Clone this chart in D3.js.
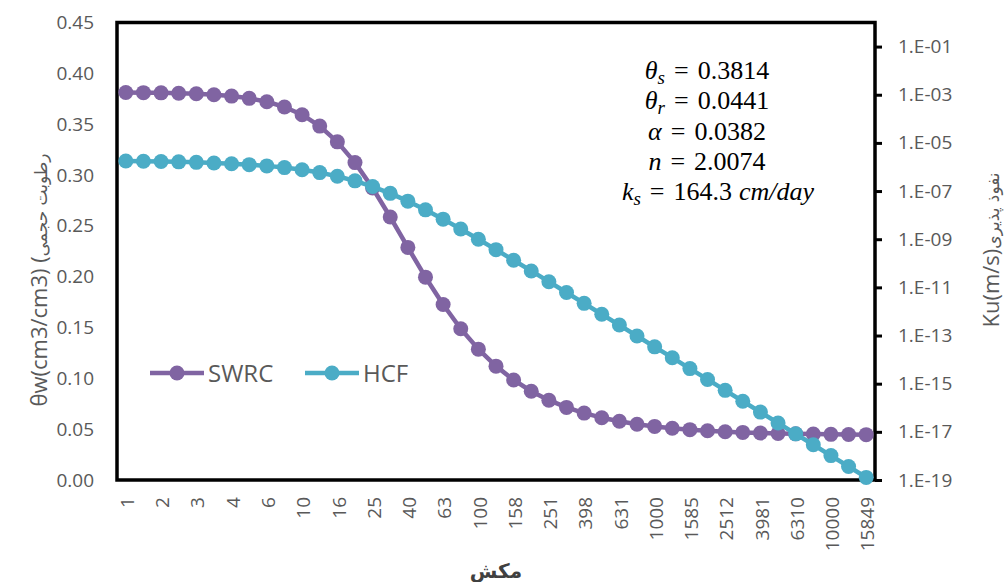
<!DOCTYPE html>
<html>
<head>
<meta charset="utf-8">
<script src="https://cdn.jsdelivr.net/npm/d3@7"></script>
<style>
  html, body { margin: 0; padding: 0; background: #fff; }
  svg { display: block; }
</style>
</head>
<body>
<svg id="chart" width="1006" height="582"></svg>
<script>
// Suction categories (cm), one every 0.1 log unit; every other one is labelled
const suction = ["1","1","2","2","3","3","4","5","6","8","10","13","16","20","25","32","40","50","63","79",
  "100","126","158","200","251","316","398","501","631","794","1000","1259","1585","1995","2512","3162",
  "3981","5012","6310","7943","10000","12589","15849"];

// Soil water retention curve, volumetric water content
const swrc = [0.3812,0.3810,0.3808,0.3804,0.3799,0.3790,0.3776,0.3754,0.3721,0.3669,
  0.3593,0.3481,0.3326,0.3122,0.2872,0.2587,0.2288,0.1995,0.1726,0.1488,
  0.1287,0.1120,0.0984,0.0873,0.0785,0.0714,0.0658,0.0613,0.0578,0.0549,
  0.0527,0.0509,0.0495,0.0484,0.0475,0.0468,0.0462,0.0458,0.0454,0.0452,
  0.0449,0.0448,0.0446];

// Hydraulic conductivity function, Ku (m/s)
const hcf = [1.76e-6,1.73e-6,1.68e-6,1.63e-6,1.56e-6,1.47e-6,1.37e-6,1.25e-6,1.11e-6,9.44e-7,
  7.66e-7,5.85e-7,4.12e-7,2.65e-7,1.54e-7,8.04e-8,3.81e-8,1.66e-8,6.81e-9,2.65e-9,
  1.00e-9,3.68e-10,1.34e-10,4.81e-11,1.72e-11,6.11e-12,2.17e-12,7.67e-13,2.72e-13,9.59e-14,
  3.39e-14,1.20e-14,4.23e-15,1.50e-15,5.28e-16,1.87e-16,6.59e-17,2.33e-17,8.24e-18,2.91e-18,
  1.03e-18,3.63e-19,1.28e-19];

const leftTicks = [0,0.05,0.10,0.15,0.20,0.25,0.30,0.35,0.40,0.45];
const rightTicks = [1e-19,1e-17,1e-15,1e-13,1e-11,1e-9,1e-7,1e-5,1e-3,1e-1];
const rightTickLabels = ["1.E-19","1.E-17","1.E-15","1.E-13","1.E-11","1.E-09","1.E-07","1.E-05","1.E-03","1.E-01"];

const seriesNames = ["SWRC","HCF"];
const colors = {SWRC: "#8064A2", HCF: "#4BACC6"};

// van Genuchten fitted parameters
const params = [
  {sym: "θ", sub: "s", value: "0.3814"},
  {sym: "θ", sub: "r", value: "0.0441"},
  {sym: "α", sub: "", value: "0.0382"},
  {sym: "n", sub: "", value: "2.0074"},
  {sym: "k", sub: "s", value: "164.3", unit: "cm/day"}
];

const svg = d3.select("#chart");
const plotL = 117, plotR = 875, plotT = 22.5, plotB = 480;
const axisColor = "#595959";
const font = "'Open Sans', sans-serif";

const idx = d3.range(suction.length);
const x = d3.scalePoint().domain(idx).range([plotL, plotR]).padding(0.5);
const y = d3.scaleLinear().domain([0, 0.45]).range([plotB, plotT]);
const yK = d3.scaleLog().domain([1e-19, 1]).range([plotB, plotT]);

// Plot frame
svg.append("rect")
  .attr("x", plotL).attr("y", plotT)
  .attr("width", plotR - plotL).attr("height", plotB - plotT)
  .attr("fill", "none").attr("stroke", "#000").attr("stroke-width", 3.5);

// Left axis
const gL = svg.append("g").attr("transform", `translate(${plotL},0)`)
  .call(d3.axisLeft(y).tickValues(leftTicks).tickFormat(d3.format(".2f")).tickSize(0).tickPadding(23));
gL.select(".domain").remove();
gL.selectAll("text").attr("font-family", font).attr("font-size", 19).attr("fill", axisColor);

// Right axis (log)
const gR = svg.append("g").attr("transform", `translate(${plotR},0)`)
  .call(d3.axisRight(yK).tickValues(rightTicks).tickFormat((d, i) => rightTickLabels[i]).tickSize(7).tickPadding(16));
gR.select(".domain").remove();
gR.selectAll("line").attr("stroke", "#000").attr("stroke-width", 3);
gR.selectAll("text").attr("font-family", font).attr("font-size", 19).attr("fill", axisColor);

// Bottom axis, rotated labels on every other category
const gB = svg.append("g").attr("transform", `translate(0,${plotB})`)
  .call(d3.axisBottom(x).tickValues(idx.filter(i => i % 2 === 0)).tickFormat(i => suction[i]).tickSize(0));
gB.select(".domain").remove();
gB.selectAll("text")
  .attr("transform", "rotate(-90)")
  .attr("x", -17).attr("y", 1).attr("dy", "0.35em")
  .attr("text-anchor", "end")
  .attr("font-family", font).attr("font-size", 19).attr("fill", axisColor);

// Series
const series = [
  {name: "SWRC", pts: swrc.map((v, i) => [x(i), y(v)])},
  {name: "HCF", pts: hcf.map((v, i) => [x(i), yK(v)])}
];
const line = d3.line();
series.forEach(s => {
  const g = svg.append("g");
  g.append("path").attr("d", line(s.pts)).attr("fill", "none")
    .attr("stroke", colors[s.name]).attr("stroke-width", 4.5).attr("stroke-linejoin", "round");
  g.selectAll("circle").data(s.pts).join("circle")
    .attr("cx", d => d[0]).attr("cy", d => d[1]).attr("r", 7.5)
    .attr("fill", colors[s.name]);
});

// Legend
const legendX = [150, 305];
seriesNames.forEach((name, i) => {
  const g = svg.append("g").attr("transform", `translate(${legendX[i]},373)`);
  g.append("line").attr("x1", 0).attr("x2", 54).attr("stroke", colors[name]).attr("stroke-width", 4.5);
  g.append("circle").attr("cx", 27).attr("r", 7.5).attr("fill", colors[name]);
  g.append("text").attr("x", 58).attr("y", 0).attr("dy", "0.36em")
    .attr("font-family", font).attr("font-size", 24).attr("fill", axisColor).text(name);
});

// Fitted parameters, centred block of equations
const pg = svg.append("g").attr("font-family", "'Liberation Serif', serif").attr("font-size", 26).attr("fill", "#000");
params.forEach((p, i) => {
  const t = pg.append("text").attr("x", i === 4 ? 718 : 707).attr("y", 79 + i * 30.3).attr("text-anchor", "middle");
  t.append("tspan").attr("font-style", "italic").text(p.sym);
  if (p.sub) {
    t.append("tspan").attr("font-style", "italic").attr("font-size", 19).attr("dy", 5).text(p.sub);
    t.append("tspan").attr("dy", -5).attr("dx", 9).text("=");
  } else {
    t.append("tspan").attr("dx", 9).text("=");
  }
  t.append("tspan").attr("dx", 9).text(p.value);
  if (p.unit) t.append("tspan").attr("dx", 7).attr("font-style", "italic").text(p.unit);
});

// Axis titles
const lt = svg.append("text").attr("transform", "translate(47,280) rotate(-90)")
  .attr("text-anchor", "middle").attr("fill", axisColor).attr("font-family", font);
lt.append("tspan").attr("font-size", 22).text("θw(cm3/cm3) (");
lt.append("tspan").attr("font-size", 17).attr("font-family", "'DejaVu Sans', sans-serif").text("رطوبت حجمی");

const rt = svg.append("text").attr("transform", "translate(999,250) rotate(-90)")
  .attr("text-anchor", "middle").attr("fill", axisColor).attr("font-family", font);
rt.append("tspan").attr("font-size", 22).text("Ku(m/s)");
rt.append("tspan").attr("font-size", 17).attr("font-family", "'DejaVu Sans', sans-serif").text("نفوذ پذیری");

svg.append("text").attr("x", (plotL + plotR) / 2).attr("y", 578)
  .attr("text-anchor", "middle").attr("font-family", "'DejaVu Sans', sans-serif")
  .attr("font-weight", "bold").attr("font-size", 20).attr("fill", "#404040").text("مکش");
</script>
</body>
</html>
